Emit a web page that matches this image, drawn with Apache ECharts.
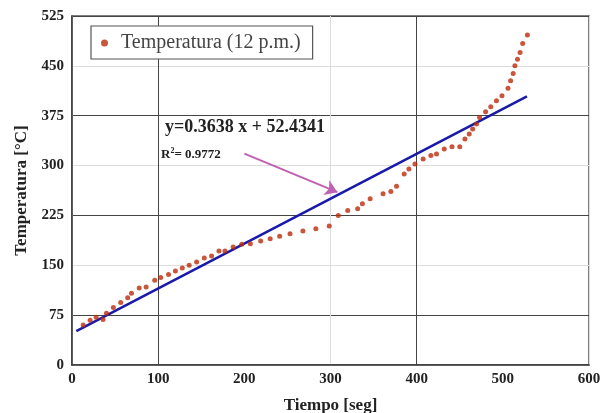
<!DOCTYPE html>
<html>
<head>
<meta charset="utf-8">
<script src="https://cdn.jsdelivr.net/npm/echarts@6/dist/echarts.min.js"></script>
<style>
html, body { margin: 0; padding: 0; background: #fff; }
#chart { width: 604px; height: 413px; }
</style>
</head>
<body>
<div id="chart"></div>
<script>
// datos
const tiempo = [13, 21, 28, 36, 40, 48, 56.5, 64.6, 69, 78, 86, 96, 103, 112, 120, 128, 136, 144.6, 153.5, 162, 170.5, 177.5, 187, 197, 207, 219, 230, 241, 253, 268, 283, 298.5, 309, 320, 331.5, 337, 346, 361, 370, 376.6, 385.5, 391, 398, 407.5, 416.5, 423, 432, 441, 450, 456, 461, 465, 469.5, 473, 480, 486, 492.6, 499, 506, 509, 512, 514, 517, 520, 523, 528.5]
const temperatura = [60, 67.5, 72, 68.5, 78, 86.5, 94, 101, 108, 116, 117.5, 127.5, 131.5, 136, 141.5, 146, 150, 155, 161, 164, 171.5, 171.5, 177.5, 181.5, 182.5, 186.5, 190, 193.5, 197.5, 201.5, 205, 209, 225, 232.5, 235, 242.5, 250, 257.5, 261, 269, 287.5, 295, 302.5, 310, 315, 317.5, 325, 328.5, 328.5, 340, 347.5, 355, 362.5, 372.5, 381, 388.5, 397.5, 405, 416.5, 427.5, 438.5, 450, 460, 470, 483.5, 496.5]

// recta de ajuste (extremos como se dibujan)
const ajusteX = [5, 528]
const ajusteY = [51, 404]

// flecha de la anotación
const flecha = [[200, 318], [308, 260]]

const xTicks = [0, 100, 200, 300, 400, 500, 600]
const yTicks = [0, 75, 150, 225, 300, 375, 450, 525]

const serif = '"Liberation Serif", "Times New Roman", serif'

const myChart = echarts.init(document.getElementById('chart'))

const option = {
    animation: false,
    backgroundColor: '#fff',
    grid: {
        left: 72, right: 15, top: 16, bottom: 48,
        outerBoundsMode: 'none', containLabel: false,
        show: true, borderColor: '#555', borderWidth: 1.5
    },
    legend: {
        left: 91, top: 26,
        padding: [7, 12, 6, 10],
        itemWidth: 7, itemHeight: 7, itemGap: 10,
        borderColor: '#555', borderWidth: 1.2,
        backgroundColor: '#fff',
        data: [{ name: 'Temperatura (12 p.m.)', icon: 'circle' }],
        textStyle: { fontFamily: serif, fontSize: 20, color: '#444', padding: [0, 0, 0, 8] }
    },
    xAxis: {
        type: 'value', min: 0, max: 600, interval: 100,
        name: 'Tiempo [seg]', nameLocation: 'center', nameGap: 32,
        nameTextStyle: { fontFamily: serif, fontSize: 17, fontWeight: 'bold', color: '#222' },
        axisLine: { lineStyle: { color: '#333', width: 1.5 } },
        axisTick: { show: false },
        axisLabel: { fontFamily: serif, fontSize: 15, fontWeight: 'bold', color: '#222', margin: 7 },
        splitLine: { lineStyle: { color: ['#ddd', '#444', 'rgba(0,0,0,0)'], width: 1 } }
    },
    yAxis: {
        type: 'value', min: 0, max: 525, interval: 75,
        name: 'Temperatura [°C]', nameLocation: 'center', nameGap: 42,
        nameTextStyle: { fontFamily: serif, fontSize: 17, fontWeight: 'bold', color: '#222' },
        axisLine: { show: true, lineStyle: { color: '#333', width: 1.5 } },
        axisTick: { show: false },
        axisLabel: { fontFamily: serif, fontSize: 15, fontWeight: 'bold', color: '#222', margin: 8 },
        splitLine: { lineStyle: { color: ['#ddd', '#444'], width: 1 } }
    },
    graphic: [
        {
            type: 'text', left: 165, top: 118, silent: true,
            style: { text: 'y=0.3638 x + 52.4341', font: 'bold 18px ' + serif, fill: '#222' }
        },
        {
            type: 'text', left: 161, top: 147, silent: true,
            style: {
                text: '{b|R}{s|2}{b|= 0.9772}',
                rich: {
                    b: { font: 'bold 13px ' + serif, fill: '#222', verticalAlign: 'bottom' },
                    s: { font: 'bold 8px ' + serif, fill: '#222', verticalAlign: 'top', padding: [0, 0, 6, 0] }
                }
            }
        }
    ],
    series: [
        {
            name: 'Ajuste',
            type: 'line',
            data: ajusteX.map((x, i) => [x, ajusteY[i]]),
            symbol: 'none',
            lineStyle: { color: '#1a1aaa', width: 2.5 },
            z: 3,
            markLine: {
                silent: true,
                symbol: ['none', 'arrow'],
                symbolSize: 12,
                label: { show: false },
                lineStyle: { color: '#c060b0', width: 2, type: 'solid' },
                data: [[{ coord: flecha[0] }, { coord: flecha[1] }]]
            }
        },
        {
            name: 'Temperatura (12 p.m.)',
            type: 'scatter',
            data: tiempo.map((x, i) => [x, temperatura[i]]),
            symbolSize: 5,
            itemStyle: { color: '#bb2a0a' },
            z: 4
        }
    ]
}
myChart.setOption(option)
</script>
</body>
</html>
